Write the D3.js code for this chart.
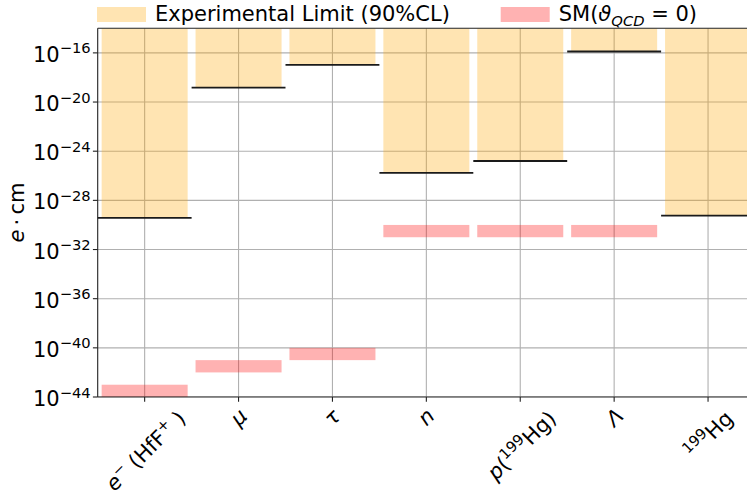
<!DOCTYPE html>
<html>
<head>
<meta charset="utf-8">
<script src="https://d3js.org/d3.v7.min.js"></script>
<style>
  body { margin: 0; background: #fff; }
  text { font-family: "DejaVu Sans", sans-serif; fill: #000; }
</style>
</head>
<body>
<script>
const width = 747, height = 492;
const plotLeft = 97.7, plotRight = 755, plotTop = 28.3, plotBottom = 397;
const fontSize = 21;

// data
const categories = ["e", "mu", "tau", "n", "p", "Lambda", "Hg"];
const tickLabels = [
  [{t: "e", it: 1}, {t: "−", sup: 1}, {t: " (HfF"}, {t: "+", sup: 1}, {t: " )"}],
  [{t: "μ", it: 1}],
  [{t: "τ", it: 1}],
  [{t: "n", it: 1}],
  [{t: "p", it: 1}, {t: "("}, {t: "199", sup: 1}, {t: "Hg)"}],
  [{t: "Λ", it: 1}],
  [{t: "199", sup: 1}, {t: "Hg"}]
];
const expLimit = [3.7e-30, 1.5e-19, 1.05e-17, 1.7e-26, 1.6e-25, 1.3e-16, 5.8e-30];
const smLow  = [1e-44, 1e-42, 1e-41, 1e-31, 1e-31, 1e-31, null];
const smHigh = [1e-43, 1e-41, 1e-40, 1e-30, 1e-30, 1e-30, null];
const yTicks = [1e-44, 1e-40, 1e-36, 1e-32, 1e-28, 1e-24, 1e-20, 1e-16];
const legendLabels = [
  [{t: "Experimental Limit (90%CL)"}],
  [{t: "SM("}, {t: "ϑ", it: 1}, {t: "QCD", it: 1, sub: 1}, {t: " = 0)"}]
];

const orange = "rgba(255,165,0,0.3)";
const pink = "rgba(255,0,0,0.3)";

// append parts as tspans; sup/sub shift the baseline
function rich(sel, parts, size) {
  let shift = 0;
  parts.forEach(p => {
    const target = p.sup ? -0.4 * size : p.sub ? 0.22 * size : 0;
    sel.append("tspan")
      .text(p.t)
      .attr("dy", target - shift)
      .attr("font-size", (p.sup || p.sub) ? size * 0.7 : size)
      .attr("font-style", p.it ? "italic" : null);
    shift = target;
  });
  return sel;
}

const svg = d3.select("body").append("svg")
  .attr("width", width)
  .attr("height", height);

const x = d3.scaleBand().domain(categories).range([plotLeft, plotRight]).padding(0);
const y = d3.scaleLog().domain([1e-44, 1e-14]).range([plotBottom, plotTop]);
const step = x.step();
const bw = step * 0.916;

svg.append("clipPath").attr("id", "plot")
  .append("rect").attr("x", plotLeft).attr("y", plotTop)
  .attr("width", plotRight - plotLeft).attr("height", plotBottom - plotTop);

const g = svg.append("g").attr("clip-path", "url(#plot)");

// grid
g.selectAll("line.hg").data(yTicks).join("line")
  .attr("x1", plotLeft).attr("x2", plotRight)
  .attr("y1", d => y(d)).attr("y2", d => y(d))
  .attr("stroke", "#b0b0b0").attr("stroke-width", 1.1);
g.selectAll("line.vg").data(categories).join("line")
  .attr("x1", d => x(d) + step / 2).attr("x2", d => x(d) + step / 2)
  .attr("y1", plotTop).attr("y2", plotBottom)
  .attr("stroke", "#b0b0b0").attr("stroke-width", 1.1);

// experimental limit bars (from top of axes down to the limit)
g.selectAll("rect.exp").data(categories).join("rect")
  .attr("x", d => x(d) + (step - bw) / 2)
  .attr("width", bw)
  .attr("y", plotTop)
  .attr("height", (d, i) => y(expLimit[i]) - plotTop)
  .attr("fill", orange);

// SM ranges
const smIdx = categories.map((d, i) => i).filter(i => smLow[i] != null);
g.selectAll("rect.sm").data(smIdx).join("rect")
  .attr("x", i => x(categories[i]) + (step - bw) / 2)
  .attr("width", bw)
  .attr("y", i => y(smHigh[i]))
  .attr("height", i => y(smLow[i]) - y(smHigh[i]))
  .attr("fill", pink);

// limit lines
svg.selectAll("line.lim").data(categories).join("line")
  .attr("x1", d => x(d)).attr("x2", d => x(d) + step)
  .attr("y1", (d, i) => y(expLimit[i])).attr("y2", (d, i) => y(expLimit[i]))
  .attr("stroke", "#1a1a1a").attr("stroke-width", 1.8);

// spines
const spine = "#222";
svg.append("line").attr("x1", plotLeft).attr("x2", width).attr("y1", plotTop).attr("y2", plotTop)
  .attr("stroke", spine).attr("stroke-width", 1.1);
svg.append("line").attr("x1", plotLeft).attr("x2", plotLeft).attr("y1", plotTop).attr("y2", plotBottom)
  .attr("stroke", spine).attr("stroke-width", 1.1);
svg.append("line").attr("x1", plotLeft).attr("x2", width).attr("y1", plotBottom).attr("y2", plotBottom)
  .attr("stroke", spine).attr("stroke-width", 1.1);

// y ticks
svg.selectAll("line.yt").data(yTicks).join("line")
  .attr("x1", plotLeft - 4.8).attr("x2", plotLeft)
  .attr("y1", d => y(d)).attr("y2", d => y(d))
  .attr("stroke", spine).attr("stroke-width", 1.1);
svg.selectAll("text.yl").data(yTicks).join("text")
  .attr("x", 90.7).attr("y", d => y(d) + 9)
  .attr("text-anchor", "end")
  .each(function(d) {
    const e = Math.round(Math.log10(d));
    rich(d3.select(this), [{t: "10"}, {t: "−" + Math.abs(e), sup: 1}], fontSize);
  });

// x ticks
svg.selectAll("line.xt").data(categories).join("line")
  .attr("x1", d => x(d) + step / 2).attr("x2", d => x(d) + step / 2)
  .attr("y1", plotBottom).attr("y2", plotBottom + 4.8)
  .attr("stroke", spine).attr("stroke-width", 1.1);
const labelTop = 404;
svg.selectAll("text.xl").data(categories).join("text")
  .each(function(d, i) {
    const t = d3.select(this);
    rich(t, tickLabels[i], fontSize);
    const b = this.getBBox();
    const cx = b.x + b.width / 2, cy = b.y + b.height / 2;
    const H = (b.width + b.height) / Math.SQRT2;
    t.attr("transform",
      `translate(${x(d) + step / 2},${labelTop + H / 2}) rotate(-45) translate(${-cx},${-cy})`);
  });

// y label
svg.append("text")
  .attr("transform", "translate(24,212.6) rotate(-90)")
  .attr("text-anchor", "middle")
  .call(s => rich(s, [{t: "e", it: 1}, {t: "\u2009·\u2009cm"}], fontSize));

// legend
const legX = [97, 500.7];
const legend = svg.selectAll("g.leg").data(legendLabels).join("g")
  .attr("transform", (d, i) => `translate(${legX[i]},0)`);
legend.append("rect")
  .attr("x", 0).attr("y", 7).attr("width", 49).attr("height", 15)
  .attr("fill", (d, i) => i === 0 ? orange : pink);
legend.append("text")
  .attr("x", 58).attr("y", 21)
  .each(function(d) { rich(d3.select(this), d, fontSize); });
</script>
</body>
</html>
